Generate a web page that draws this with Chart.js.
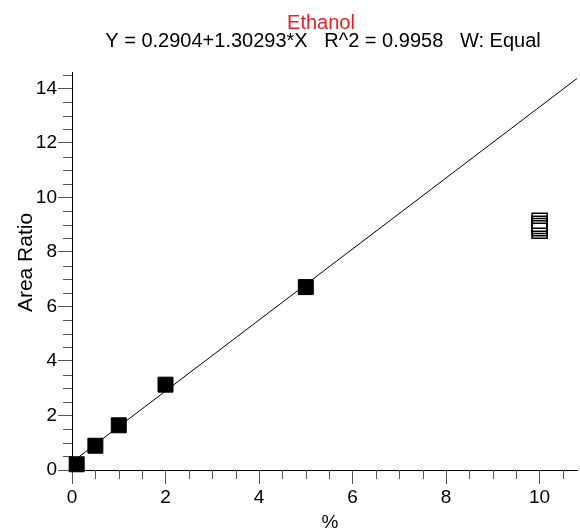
<!DOCTYPE html>
<html>
<head>
<meta charset="utf-8">
<title>Ethanol</title>
<script src="https://cdn.jsdelivr.net/npm/chart.js@4.4.1/dist/chart.umd.min.js"></script>
<style>
  html, body { margin: 0; padding: 0; background: #fff; overflow: hidden; }
  #wrap { width: 580px; height: 531px; }
  #calChart { display: block; }
</style>
</head>
<body>
<div id="wrap"><canvas id="calChart" width="580" height="531"></canvas></div>
<script>
// calibration curve: area ratio vs. concentration
const compound = 'Ethanol';
const equationText = 'Y = 0.2904+1.30293*X   R^2 = 0.9958   W: Equal';
const intercept = 0.2904;
const slope = 1.30293;

// levels used in the fit
const calLevels = [0.1, 0.5, 1, 2, 5];
const calRatios = [0.21, 0.89, 1.64, 3.13, 6.71];

// replicates at 10 % left out of the fit (hollow)
const excludedLevels = [10, 10, 10, 10, 10];
const excludedRatios = [9.14, 9.03, 8.95, 8.87, 8.78];

const xTicks = [0, 2, 4, 6, 8, 10];
const yTicks = [0, 2, 4, 6, 8, 10, 12, 14];
const xRange = [0, 10.8];
const yRange = [0, 14.6];
const minorStep = 0.5;

const fontFamily = '"Liberation Sans", Arial, sans-serif';
const tickGray = '#555';

function toPoints(xs, ys) {
  return xs.map((x, i) => ({ x: x, y: ys[i] }));
}

const fitLine = xRange.map(x => ({ x: x, y: intercept + slope * x }));

// minor ticks plus the titles around the plot
const calDecor = {
  id: 'calDecor',
  beforeDatasetsDraw(chart) {
    const { ctx, chartArea, scales } = chart;
    const x = scales.x, y = scales.y;
    ctx.save();
    ctx.strokeStyle = tickGray;
    ctx.lineWidth = 1;
    ctx.beginPath();
    for (let v = minorStep; v < xRange[1]; v += minorStep) {
      if (xTicks.includes(v)) continue;
      const px = Math.round(x.getPixelForValue(v)) + 0.5;
      ctx.moveTo(px, chartArea.bottom);
      ctx.lineTo(px, chartArea.bottom + 9);
    }
    for (let v = minorStep; v < yRange[1]; v += minorStep) {
      if (yTicks.includes(v)) continue;
      const py = Math.round(y.getPixelForValue(v)) + 0.5;
      ctx.moveTo(chartArea.left, py);
      ctx.lineTo(chartArea.left - 9, py);
    }
    ctx.stroke();
    ctx.restore();
  },
  afterDraw(chart) {
    const { ctx } = chart;
    ctx.save();
    ctx.textAlign = 'center';
    ctx.textBaseline = 'alphabetic';

    ctx.font = '20px ' + fontFamily;
    ctx.fillStyle = '#ed1c24';
    ctx.fillText(compound, 321, 28.5);

    ctx.fillStyle = '#000';
    ctx.fillText(equationText, 323, 47);

    ctx.font = '19px ' + fontFamily;
    ctx.fillText('%', 330, 528);

    ctx.font = '21px ' + fontFamily;
    ctx.translate(31.5, 262.5);
    ctx.rotate(-Math.PI / 2);
    ctx.fillText('Area Ratio', 0, 0);
    ctx.restore();
  }
};

new Chart(document.getElementById('calChart'), {
  type: 'scatter',
  data: {
    datasets: [
      {
        data: toPoints(calLevels, calRatios),
        pointStyle: 'rect',
        pointRadius: 10.6,
        backgroundColor: '#000',
        borderColor: '#000',
        borderWidth: 1,
        clip: false
      },
      {
        data: toPoints(excludedLevels, excludedRatios),
        pointStyle: 'rect',
        pointRadius: 10.6,
        backgroundColor: 'rgba(0,0,0,0)',
        borderColor: '#000',
        borderWidth: 1.5,
        clip: false
      },
      {
        data: fitLine,
        showLine: true,
        borderColor: '#000',
        borderWidth: 1,
        pointRadius: 0,
        fill: false
      }
    ]
  },
  options: {
    responsive: false,
    animation: false,
    events: [],
    layout: { autoPadding: false, padding: { top: 72, right: 3, bottom: 0, left: 0 } },
    plugins: {
      legend: { display: false },
      tooltip: { enabled: false },
      title: { display: false }
    },
    scales: {
      x: {
        type: 'linear',
        min: xRange[0],
        max: xRange[1],
        afterBuildTicks: s => { s.ticks = xTicks.map(v => ({ value: v })); },
        afterFit: s => {
          s.height = 61;
          s.paddingLeft = 0;
          s.paddingRight = 0;
        },
        grid: { drawOnChartArea: false, tickLength: 14, tickColor: tickGray, color: tickGray },
        border: { color: '#000', width: 1 },
        ticks: {
          color: '#000',
          padding: 2,
          maxRotation: 0,
          autoSkip: false,
          font: { family: fontFamily, size: 19 }
        }
      },
      y: {
        type: 'linear',
        min: yRange[0],
        max: yRange[1],
        afterBuildTicks: s => { s.ticks = yTicks.map(v => ({ value: v })); },
        afterFit: s => { s.width = 72; },
        grid: { drawOnChartArea: false, tickLength: 14, tickColor: tickGray, color: tickGray },
        border: { color: '#000', width: 1 },
        ticks: {
          color: '#000',
          padding: 1,
          autoSkip: false,
          font: { family: fontFamily, size: 19 }
        }
      }
    }
  },
  plugins: [calDecor]
});
</script>
</body>
</html>
